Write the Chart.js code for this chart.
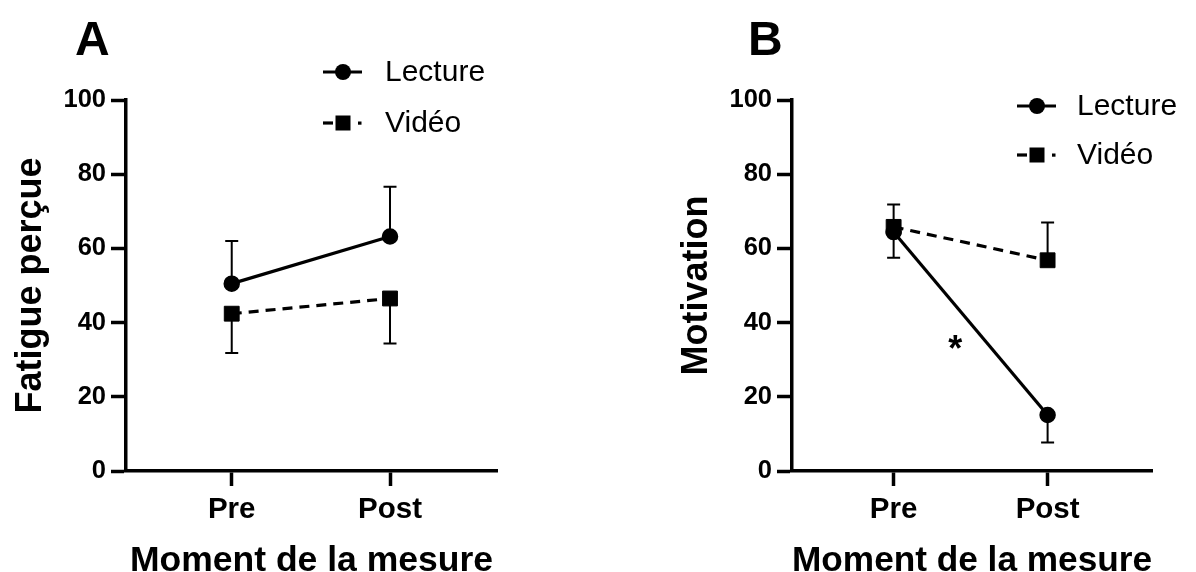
<!DOCTYPE html>
<html>
<head>
<meta charset="utf-8">
<script src="https://cdn.jsdelivr.net/npm/chart.js@4.4.1/dist/chart.umd.min.js"></script>
<style>
  html, body { margin:0; padding:0; background:#fff; }
  #wrap { position:relative; width:1196px; height:572px; overflow:hidden; }
  canvas { position:absolute; top:0; }
</style>
</head>
<body>
<div id="wrap">
  <canvas id="cA" width="598" height="572" style="left:0"></canvas>
  <canvas id="cB" width="598" height="572" style="left:598px"></canvas>
</div>
<script>
// ---------- DATA ----------
const categories = ['Pre', 'Post'];
const seriesNames = ['Lecture', 'Vidéo'];
const yTicks = [0, 20, 40, 60, 80, 100];

// Panel A : Fatigue perçue
const fatigueLecture = [50.5, 63.2];
const fatigueLectureErr = [11.5, 13.4];   // upward
const fatigueVideo = [42.4, 46.5];
const fatigueVideoErr = [10.6, 12.1];     // downward

// Panel B : Motivation
const motivLecture = [64.4, 15.1];
const motivLectureErr = [6.9, 7.4];       // downward
const motivVideo = [65.8, 56.8];
const motivVideoErr = [6.0, 10.2];        // upward

const annotationB = { x: 0.4, y: 35, text: '*' };
// --------------------------

const FONT = "'Liberation Sans', Arial, Helvetica, sans-serif";
Chart.defaults.color = '#000';
Chart.defaults.font.family = FONT;

function toPts(vals) { return categories.map((c, i) => ({ x: i, y: vals[i] })); }

function makeDatasets(lec, lecErr, lecDir, vid, vidErr, vidDir) {
  return [
    {
      label: seriesNames[0], data: toPts(lec), errors: lecErr, errorDir: lecDir,
      borderColor: '#000', backgroundColor: '#000', borderWidth: 3.2,
      pointStyle: 'circle', pointRadius: 7.5, pointBorderWidth: 1.5,
      pointBackgroundColor: '#000', pointBorderColor: '#000', tension: 0
    },
    {
      label: seriesNames[1], data: toPts(vid), errors: vidErr, errorDir: vidDir,
      borderColor: '#000', backgroundColor: '#000', borderWidth: 3.2, borderDash: [10, 7],
      pointStyle: 'rect', pointRadius: 10.5, pointBorderWidth: 1,
      pointBackgroundColor: '#000', pointBorderColor: '#000', tension: 0
    }
  ];
}

const errorBars = {
  id: 'errorBars',
  beforeDatasetsDraw(chart) {
    const { ctx, scales: { x, y } } = chart;
    ctx.save();
    ctx.strokeStyle = '#000';
    ctx.lineWidth = 2;
    ctx.setLineDash([]);
    chart.data.datasets.forEach(ds => {
      ds.data.forEach((p, j) => {
        const px = x.getPixelForValue(p.x);
        const py = y.getPixelForValue(p.y);
        const pe = y.getPixelForValue(p.y + ds.errorDir * ds.errors[j]);
        ctx.beginPath();
        ctx.moveTo(px, py); ctx.lineTo(px, pe);
        ctx.moveTo(px - 6.5, pe); ctx.lineTo(px + 6.5, pe);
        ctx.stroke();
      });
    });
    ctx.restore();
  }
};

const decorations = {
  id: 'decorations',
  afterDraw(chart, args, o) {
    const { ctx } = chart;
    ctx.save();
    // panel letter
    ctx.fillStyle = '#000';
    ctx.font = 'bold 48px ' + FONT;
    ctx.textBaseline = 'alphabetic';
    ctx.textAlign = 'left';
    ctx.fillText(o.letter, o.letterX, 55);
    // legend
    chart.data.datasets.forEach((ds, i) => {
      const ly = o.legY + i * o.legDy;
      const x0 = o.legX;
      ctx.strokeStyle = '#000';
      ctx.fillStyle = '#000';
      ctx.lineWidth = 3.2;
      if (i === 0) {
        ctx.beginPath(); ctx.moveTo(x0, ly); ctx.lineTo(x0 + 39, ly); ctx.stroke();
        ctx.beginPath(); ctx.arc(x0 + 20, ly, 8, 0, Math.PI * 2); ctx.fill();
      } else {
        ctx.beginPath(); ctx.moveTo(x0, ly); ctx.lineTo(x0 + 10, ly); ctx.stroke();
        ctx.fillRect(x0 + 12.5, ly - 7.5, 15, 15);
        ctx.fillRect(x0 + 35, ly - 1.5, 3.5, 3.2);
      }
      ctx.font = '30px ' + FONT;
      ctx.textBaseline = 'middle';
      ctx.textAlign = 'left';
      ctx.fillText(ds.label, x0 + o.legTextDx, ly + 1);
    });
    // annotation
    if (o.annotation) {
      const { x, y } = chart.scales;
      ctx.font = 'bold 36px ' + FONT;
      ctx.textAlign = 'center';
      ctx.textBaseline = 'middle';
      ctx.fillText(o.annotation.text, x.getPixelForValue(o.annotation.x), y.getPixelForValue(o.annotation.y) + 10);
    }
    ctx.restore();
  }
};

function makeChart(id, datasets, yTitle, xMin, xMax, pad, deco) {
  return new Chart(document.getElementById(id), {
    type: 'line',
    data: { datasets },
    plugins: [errorBars, decorations],
    options: {
      responsive: false,
      animation: false,
      clip: false,
      layout: { padding: pad },
      plugins: { legend: { display: false }, tooltip: { enabled: false }, decorations: deco },
      scales: {
        x: {
          type: 'linear', min: xMin, max: xMax,
          afterBuildTicks: ax => { ax.ticks = categories.map((c, i) => ({ value: i })); },
          afterFit: s => { s.height = 101; },
          ticks: { callback: v => categories[v], font: { size: 29.5, weight: 'bold' }, padding: 6, maxRotation: 0, autoSkip: false },
          grid: { drawOnChartArea: false, drawTicks: true, tickLength: 15, tickWidth: 3.5, tickColor: '#000' },
          border: { display: true, width: 3.5, color: '#000' },
          title: { display: true, text: 'Moment de la mesure', font: { size: 35.5, weight: 'bold', lineHeight: 0.6 }, padding: { top: 0, bottom: 0 } }
        },
        y: {
          type: 'linear', min: 0, max: 100,
          afterBuildTicks: ax => { ax.ticks = yTicks.map(v => ({ value: v })); },
          afterFit: s => { s.width = 126; },
          ticks: { font: { size: 25.5, weight: 'bold' }, padding: 5 },
          grid: { drawOnChartArea: false, drawTicks: true, tickLength: 15, tickWidth: 3.5, tickColor: '#000' },
          border: { display: true, width: 3.5, color: '#000' },
          title: { display: true, text: yTitle, font: { size: 36, weight: 'bold', lineHeight: 1.2 }, padding: { top: 9, bottom: 0 } }
        }
      }
    }
  });
}

makeChart('cA', makeDatasets(fatigueLecture, fatigueLectureErr, 1, fatigueVideo, fatigueVideoErr, -1),
  'Fatigue perçue', -0.668, 1.676, { top: 100, right: 101, left: 0, bottom: 0 },
  { letter: 'A', letterX: 75, legX: 323, legY: 72, legDy: 51, legTextDx: 62 });

makeChart('cB', makeDatasets(motivLecture, motivLectureErr, -1, motivVideo, motivVideoErr, 1),
  'Motivation', -0.66, 1.678, { top: 100, right: 44, left: 68, bottom: 0 },
  { letter: 'B', letterX: 150, legX: 419, legY: 106, legDy: 49, legTextDx: 60, annotation: annotationB });
</script>
</body>
</html>
